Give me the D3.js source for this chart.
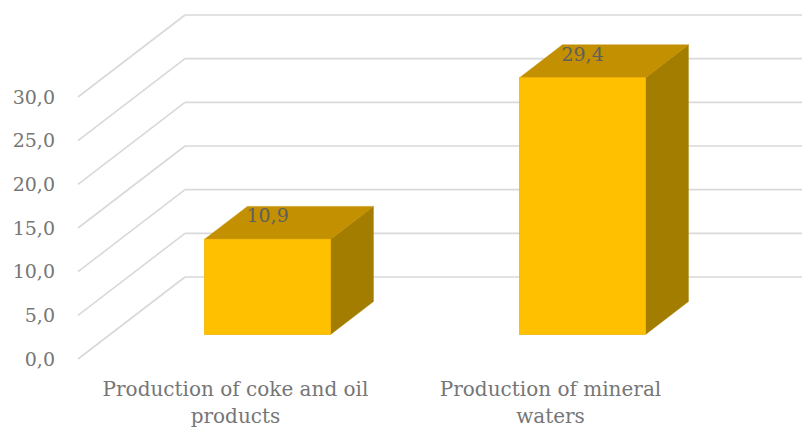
<!DOCTYPE html>
<html>
<head>
<meta charset="utf-8">
<script src="https://cdn.jsdelivr.net/npm/d3@7/dist/d3.min.js"></script>
<style>
  html, body { margin: 0; padding: 0; background: #ffffff; }
  svg { display: block; }
</style>
</head>
<body>
<svg id="chart" width="802" height="428"></svg>
<script>
// Chart data
const categories = [
  ["Production of coke and oil", "products"],
  ["Production of mineral", "waters"]
];
const values = [10.9, 29.4];
const yTicks = [0, 5, 10, 15, 20, 25, 30];

const svg = d3.select("#chart");

// Oblique 3D projection: depth d in [0,1] shifts points right and up
const depthX = 107, depthY = -82;
const proj = (x, y, d) => [x + depthX * d, y + depthY * d];

const y = d3.scaleLinear().domain([0, 30]).range([359, 97]);
const x = d3.scaleBand()
  .domain(d3.range(categories.length))
  .range([78, 708])
  .paddingInner(0.6)
  .paddingOuter(0.3);

const barFront = 0.30, barBack = 0.70;

const locale = d3.formatLocale({ decimal: ",", thousands: " ", grouping: [3], currency: ["", ""] });
const fmt = locale.format(".1f");

const font = "'DejaVu Serif', serif";
const gridColor = "#d9d9d9";

// Side wall gridlines (diagonals)
svg.append("g").selectAll("line").data(yTicks).join("line")
  .attr("x1", x.range()[0]).attr("y1", d => y(d))
  .attr("x2", d => proj(x.range()[0], y(d), 1)[0])
  .attr("y2", d => proj(x.range()[0], y(d), 1)[1])
  .attr("stroke", gridColor).attr("stroke-width", 1.6);

// Back wall gridlines
svg.append("g").selectAll("line").data(yTicks).join("line")
  .attr("x1", d => proj(x.range()[0], y(d), 1)[0])
  .attr("y1", d => proj(x.range()[0], y(d), 1)[1])
  .attr("x2", d => proj(x.range()[1], y(d), 1)[0])
  .attr("y2", d => proj(x.range()[1], y(d), 1)[1])
  .attr("stroke", gridColor).attr("stroke-width", 1.6);

// Y axis labels
svg.append("g").selectAll("text").data(yTicks).join("text")
  .attr("x", 55).attr("y", d => y(d))
  .attr("dy", "0.35em")
  .attr("text-anchor", "end")
  .attr("font-family", font).attr("font-size", 19)
  .attr("fill", "#767676")
  .text(d => fmt(d));

// 3D bars
const bars = svg.append("g").selectAll("g").data(values).join("g");
const pts = arr => arr.map(p => p.join(",")).join(" ");

bars.each(function (v, i) {
  const g = d3.select(this);
  const x0 = x(i), x1 = x(i) + x.bandwidth();
  const yb = y(0), yt = y(v);
  const F = (xx, yy) => proj(xx, yy, barFront);
  const B = (xx, yy) => proj(xx, yy, barBack);
  // right side face
  g.append("polygon")
    .attr("points", pts([F(x1, yt), B(x1, yt), B(x1, yb), F(x1, yb)]))
    .attr("fill", "#a27d00").attr("stroke", "#a27d00").attr("stroke-width", 0.5);
  // top face
  g.append("polygon")
    .attr("points", pts([F(x0, yt), B(x0, yt), B(x1, yt), F(x1, yt)]))
    .attr("fill", "#c29000").attr("stroke", "#c29000").attr("stroke-width", 0.5);
  // front face
  const f0 = F(x0, yt), f1 = F(x1, yb);
  g.append("rect")
    .attr("x", f0[0]).attr("y", f0[1])
    .attr("width", f1[0] - f0[0]).attr("height", f1[1] - f0[1])
    .attr("fill", "#ffc000").attr("stroke", "#f0b400").attr("stroke-width", 0.8);
  // value label
  g.append("text")
    .attr("x", (f0[0] + f1[0]) / 2)
    .attr("y", f0[1] - 17)
    .attr("text-anchor", "middle")
    .attr("font-family", font).attr("font-size", 19)
    .attr("fill", "#5f5f5f")
    .text(fmt(v));
});

// Category labels along the front edge of the floor
const cat = svg.append("g").selectAll("text").data(categories).join("text")
  .attr("x", (d, i) => x(i) + x.bandwidth() / 2)
  .attr("y", 396)
  .attr("text-anchor", "middle")
  .attr("font-family", font).attr("font-size", 20)
  .attr("fill", "#767676");
cat.selectAll("tspan").data(d => d).join("tspan")
  .attr("x", function () { return d3.select(this.parentNode).attr("x"); })
  .attr("dy", (d, j) => j === 0 ? 0 : 27)
  .text(d => d);
</script>
</body>
</html>
